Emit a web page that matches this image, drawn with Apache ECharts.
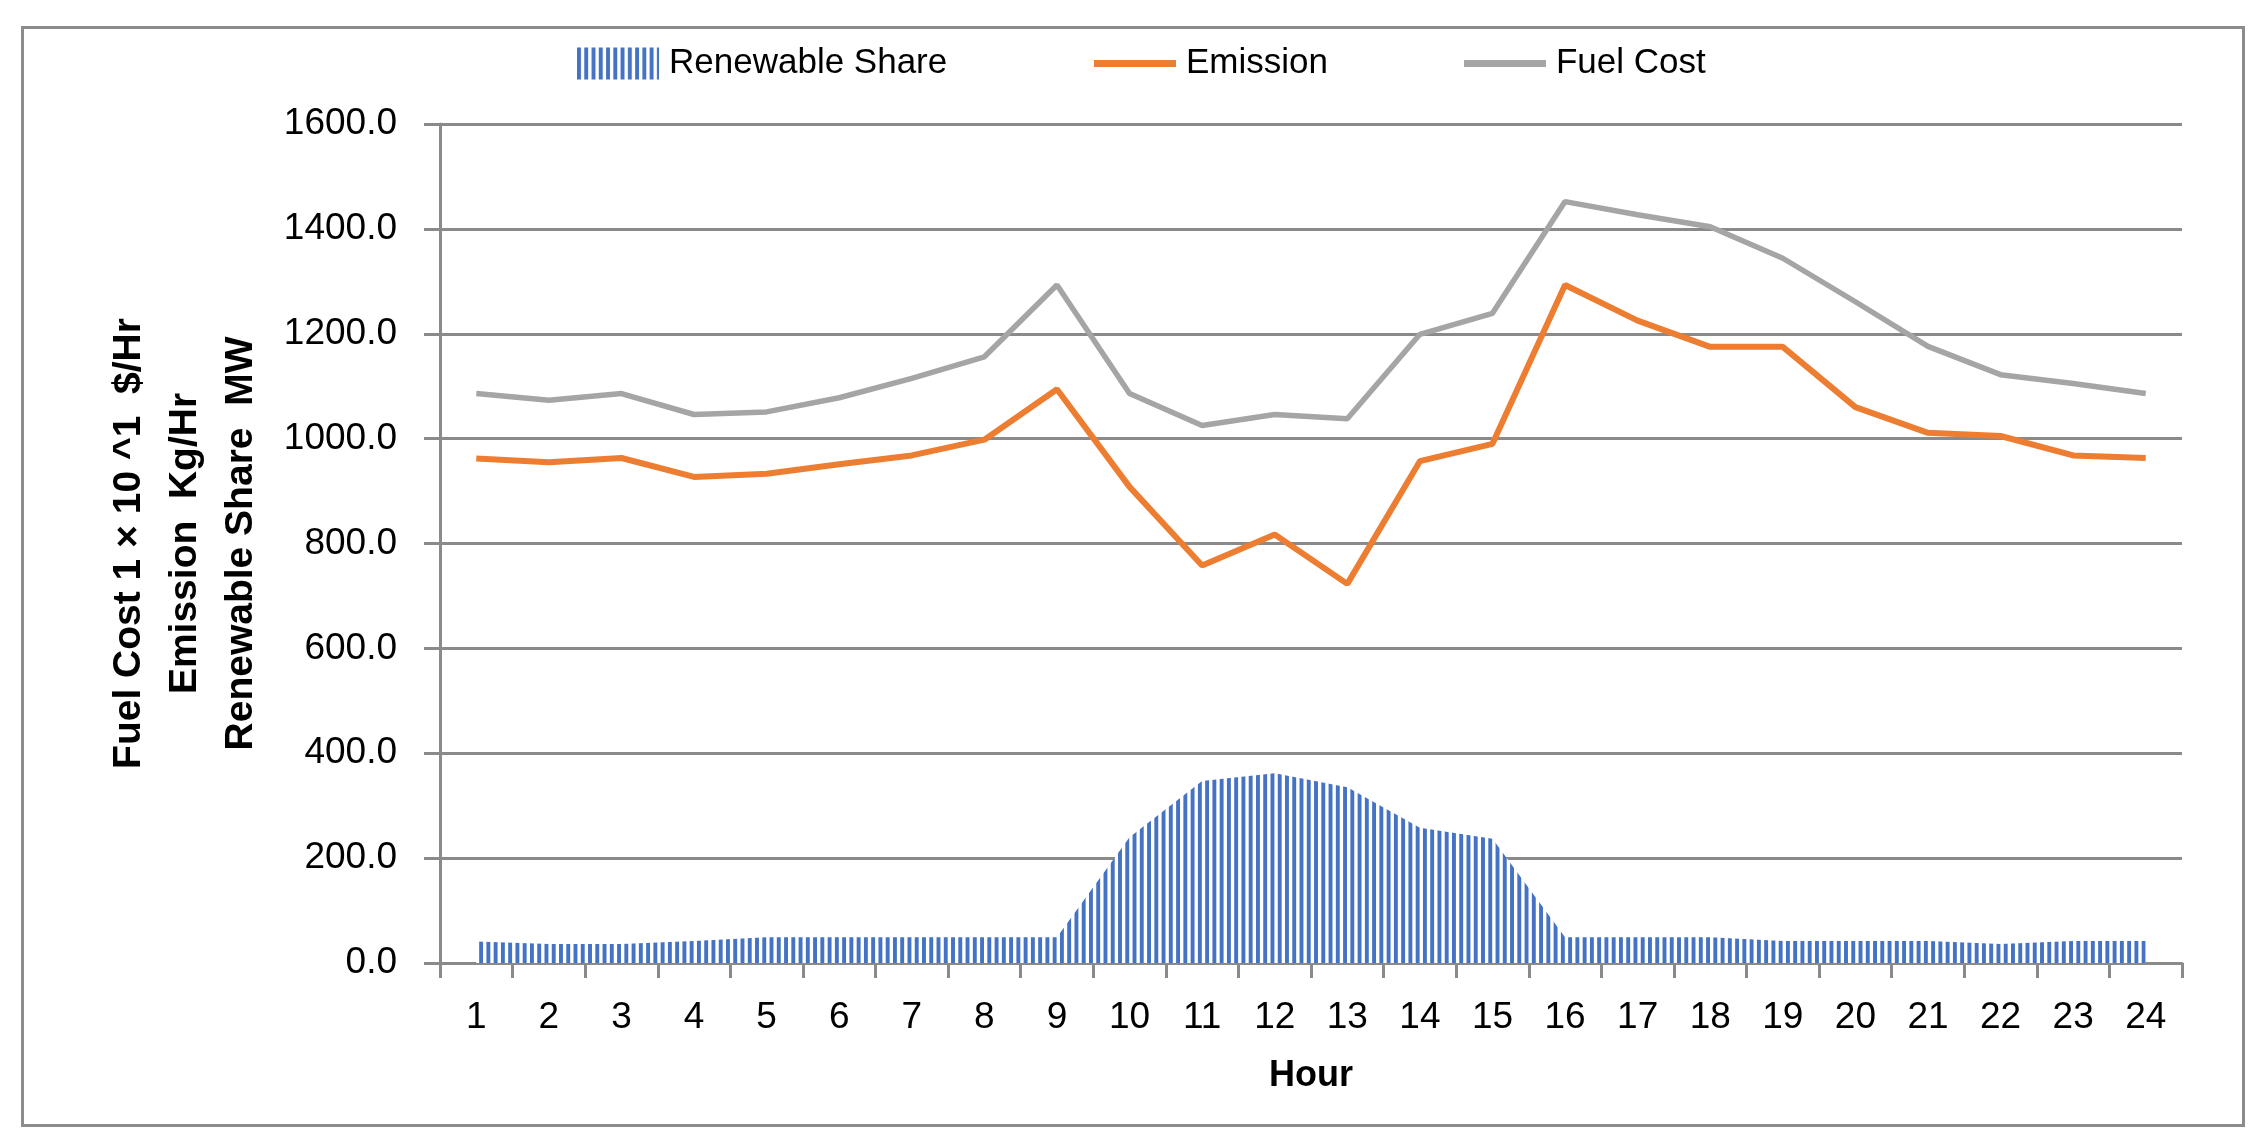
<!DOCTYPE html>
<html><head><meta charset="utf-8">
<script src="https://cdn.jsdelivr.net/npm/echarts@6/dist/echarts.min.js"></script>
<style>html,body{margin:0;padding:0;background:#fff}#c{width:2261px;height:1142px}</style>
</head><body><div id="c"></div>
<script>
// ---- data ----
const hours = ['1','2','3','4','5','6','7','8','9','10','11','12','13','14','15','16','17','18','19','20','21','22','23','24'];
const renewableShare = [41, 36, 36, 42, 49, 49, 49, 49, 49, 240, 347, 362, 335, 258, 237, 49, 49, 49, 42, 42, 42, 36, 42, 42];
const emission = [962, 955, 963, 927, 933, 951, 968, 998, 1094, 908, 758, 817, 723, 957, 990, 1293, 1225, 1175, 1175, 1060, 1011, 1005, 968, 963];
const fuelCost = [1086, 1073, 1086, 1046, 1051, 1078, 1115, 1156, 1293, 1086, 1025, 1046, 1038, 1199, 1239, 1452, 1427, 1404, 1344, 1261, 1176, 1122, 1105, 1086];
const yTicks = { min: 0, max: 1600, interval: 200 };

const FONT = 'Liberation Sans, Arial, sans-serif';
const GRID_GRAY = '#8a8a8a';

function makeStripes() {
  const c = document.createElement('canvas');
  c.width = 726; c.height = 8;
  const g = c.getContext('2d');
  g.fillStyle = '#ffffff'; g.fillRect(0, 0, 726, 8);
  g.fillStyle = '#4472C4';
  for (let i = 0; i < 100; i++) g.fillRect(i * 7.26, 0, 3.9, 8);
  return c;
}
const stripes = { image: makeStripes(), repeat: 'repeat' };

const chart = echarts.init(document.getElementById('c'), null, { renderer: 'canvas' });
chart.setOption({
  animation: false,
  backgroundColor: '#ffffff',
  graphic: [{
    type: 'rect', left: 20, top: 25, silent: true,
    shape: { width: 2221, height: 1098 },
    style: { fill: 'none', stroke: '#8c8c8c', lineWidth: 3 }
  }],
  legend: [{
    left: 572, top: 41, itemWidth: 82, itemHeight: 32,
    textStyle: { fontFamily: FONT, fontSize: 35, color: '#000', padding: [0, 0, 0, 5] },
    data: [{ name: 'Renewable Share', icon: 'rect', itemStyle: { color: stripes, borderWidth: 0 } }]
  }, {
    left: 1089, top: 41, itemWidth: 82, itemHeight: 7, itemGap: 136,
    textStyle: { fontFamily: FONT, fontSize: 35, color: '#000', padding: [0, 0, 0, 5] },
    data: [{ name: 'Emission', icon: 'rect' }, { name: 'Fuel Cost', icon: 'rect' }]
  }],
  grid: { left: 440, right: 79, top: 124, bottom: 179, containLabel: false },
  xAxis: {
    type: 'category', data: hours, boundaryGap: true,
    name: 'Hour', nameLocation: 'middle', nameGap: 95,
    nameTextStyle: { fontFamily: FONT, fontSize: 36, fontWeight: 'bold', color: '#000' },
    axisLine: { show: true, lineStyle: { color: GRID_GRAY, width: 3 } },
    axisTick: { show: true, interval: 0, alignWithLabel: false, length: 15, lineStyle: { color: GRID_GRAY, width: 3 } },
    axisLabel: { interval: 0, margin: 36, fontFamily: FONT, fontSize: 37, color: '#000' },
    splitLine: { show: false }
  },
  yAxis: {
    type: 'value', min: yTicks.min, max: yTicks.max, interval: yTicks.interval,
    name: 'Fuel Cost 1 \u00d7 10 ^1  $/Hr\nEmission  Kg/Hr\nRenewable Share  MW',
    nameLocation: 'middle', nameGap: 171, nameRotate: 90,
    nameTextStyle: { fontFamily: FONT, fontSize: 39, fontWeight: 'bold', color: '#000', lineHeight: 56, align: 'center' },
    axisLine: { show: true, lineStyle: { color: GRID_GRAY, width: 3 } },
    axisTick: { show: true, length: 16, lineStyle: { color: GRID_GRAY, width: 3 } },
    axisLabel: { margin: 43, fontFamily: FONT, fontSize: 37, color: '#000', formatter: v => v.toFixed(1) },
    splitLine: { show: true, lineStyle: { color: GRID_GRAY, width: 3 } }
  },
  series: [{
    name: 'Renewable Share', type: 'line', data: renewableShare,
    symbol: 'none', z: 1,
    itemStyle: { color: '#4472C4' },
    lineStyle: { width: 0, opacity: 0 },
    areaStyle: { color: stripes, opacity: 1 }
  }, {
    name: 'Emission', type: 'line', data: emission,
    symbol: 'none', z: 3,
    itemStyle: { color: '#ED7D31' },
    lineStyle: { color: '#ED7D31', width: 6 }
  }, {
    name: 'Fuel Cost', type: 'line', data: fuelCost,
    symbol: 'none', z: 2,
    itemStyle: { color: '#A5A5A5' },
    lineStyle: { color: '#A5A5A5', width: 5.5 }
  }]
});
</script></body></html>
